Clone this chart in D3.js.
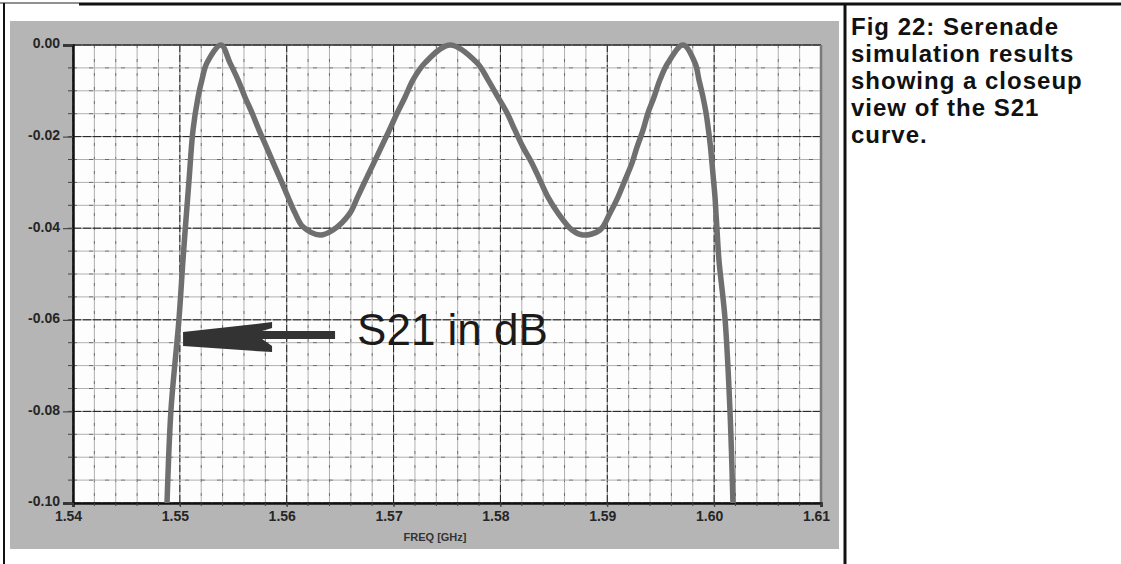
<!DOCTYPE html>
<html>
<head>
<meta charset="utf-8">
<script src="https://cdn.jsdelivr.net/npm/d3@7"></script>
<style>
  body { margin: 0; background: #fff; }
  svg { display: block; }
</style>
</head>
<body>
<div id="chart"></div>
<script>
// S21 curve (GHz, dB)
var freqGHz = [1.54880, 1.54917, 1.54992, 1.55029, 1.55057, 1.55086, 1.55123, 1.55170,
  1.55207, 1.55254, 1.55385, 1.55469, 1.55544, 1.55610, 1.55675,
  1.55741, 1.55811, 1.55875, 1.55945, 1.56012, 1.56078, 1.56152, 1.56311, 1.56433,
  1.56592, 1.56663, 1.56738, 1.56814, 1.56885, 1.56960, 1.57035, 1.57107, 1.57182,
  1.57294, 1.57528, 1.57781, 1.57884, 1.57977, 1.58061, 1.58136,
  1.58211, 1.58295, 1.58370, 1.58445, 1.58539, 1.58670, 1.58773, 1.58932, 1.59025,
  1.59100, 1.59166, 1.59231, 1.59278, 1.59334, 1.59381, 1.59437, 1.59493, 1.59568,
  1.59709, 1.59821, 1.59858, 1.59896, 1.59924, 1.59947, 1.59966,
  1.59980, 1.59994, 1.60008, 1.60017, 1.60027, 1.60045, 1.60102, 1.60148, 1.60176];
var s21dB = [-0.1000, -0.0797, -0.0598, -0.0470, -0.0382, -0.0295, -0.0186, -0.0114,
  -0.0076, -0.0039, 0.0000, -0.0039, -0.0076, -0.0114, -0.0148,
  -0.0186, -0.0223, -0.0258, -0.0295, -0.0332, -0.0367, -0.0397, -0.0415, -0.0404,
  -0.0367, -0.0332, -0.0295, -0.0258, -0.0223, -0.0186, -0.0148, -0.0114, -0.0076,
  -0.0039, 0.0000, -0.0039, -0.0076, -0.0114, -0.0148, -0.0186,
  -0.0223, -0.0258, -0.0295, -0.0332, -0.0367, -0.0404, -0.0415, -0.0404, -0.0367,
  -0.0332, -0.0295, -0.0258, -0.0223, -0.0186, -0.0148, -0.0114, -0.0076, -0.0039,
  0.0000, -0.0039, -0.0076, -0.0114, -0.0148, -0.0186, -0.0223,
  -0.0258, -0.0295, -0.0332, -0.0367, -0.0404, -0.0470, -0.0598, -0.0797, -0.1000];

var xTicks = [1.54, 1.55, 1.56, 1.57, 1.58, 1.59, 1.60, 1.61];
var yTicks = [0.00, -0.02, -0.04, -0.06, -0.08, -0.10];
var xTitle = "FREQ [GHz]";
var noteText = "S21 in dB";
var caption = ["Fig 22: Serenade", "simulation results", "showing a closeup",
  "view of the S21", "curve."];

var svgWidth = 1121, svgHeight = 564;
var plot = { left: 73, right: 821, top: 45, bottom: 503 };

var svg = d3.select("#chart").append("svg")
  .attr("width", svgWidth)
  .attr("height", svgHeight);

// gray panel behind the plot
svg.append("rect")
  .attr("x", 10).attr("y", 21)
  .attr("width", 829).attr("height", 528)
  .attr("fill", "#b5b5b5");

var x = d3.scaleLinear().domain([1.54, 1.61]).range([plot.left, plot.right]);
var y = d3.scaleLinear().domain([-0.10, 0]).range([plot.bottom, plot.top]);

// white plot area
svg.append("rect")
  .attr("x", x(1.54)).attr("y", y(0))
  .attr("width", x(1.61) - x(1.54))
  .attr("height", y(-0.10) - y(0))
  .attr("fill", "#fdfdfd");

// grid: minor every 0.002 GHz / 0.005 dB, major on the labelled ticks
var xGrid = d3.range(0, 36).map(function(i) { return +(1.54 + i * 0.002).toFixed(3); });
var yGrid = d3.range(0, 21).map(function(i) { return +(-i * 0.005).toFixed(3); });
var isMajorX = function(d) { return Math.abs(d * 100 - Math.round(d * 100)) < 1e-6; };
var isMajorY = function(d) { return Math.abs(d * 50 - Math.round(d * 50)) < 1e-6; };

var grid = svg.append("g").attr("class", "grid");
grid.selectAll(".vg").data(xGrid).enter().append("line")
  .attr("x1", d => x(d)).attr("x2", d => x(d))
  .attr("y1", y(0)).attr("y2", y(-0.10))
  .attr("stroke", d => isMajorX(d) ? "#777" : "#b0b0b0")
  .attr("stroke-width", 1);
grid.selectAll(".vgd").data(xGrid).enter().append("line")
  .attr("x1", d => x(d)).attr("x2", d => x(d))
  .attr("y1", y(0)).attr("y2", y(-0.10))
  .attr("stroke", "#111")
  .attr("stroke-opacity", d => isMajorX(d) ? 0.85 : 0.45)
  .attr("stroke-dasharray", d => isMajorX(d) ? "7,3" : "3,11")
  .attr("stroke-width", 1);
grid.selectAll(".hg").data(yGrid).enter().append("line")
  .attr("x1", x(1.54)).attr("x2", x(1.61))
  .attr("y1", d => y(d)).attr("y2", d => y(d))
  .attr("stroke", d => isMajorY(d) ? "#777" : "#b0b0b0")
  .attr("stroke-width", 1);
grid.selectAll(".hgd").data(yGrid).enter().append("line")
  .attr("x1", x(1.54)).attr("x2", x(1.61))
  .attr("y1", d => y(d)).attr("y2", d => y(d))
  .attr("stroke", "#111")
  .attr("stroke-opacity", d => isMajorY(d) ? 0.85 : 0.45)
  .attr("stroke-dasharray", d => isMajorY(d) ? "8,2" : "4,12")
  .attr("stroke-width", 1);

// plot border
svg.append("line").attr("x1", x(1.54)).attr("x2", x(1.61))
  .attr("y1", y(0)).attr("y2", y(0)).attr("stroke", "#444").attr("stroke-width", 1.5);
svg.append("line").attr("x1", x(1.61)).attr("x2", x(1.61))
  .attr("y1", y(0)).attr("y2", y(-0.10)).attr("stroke", "#7a7a7a").attr("stroke-width", 2.5);

// axes
var leftAxis = d3.axisLeft(y)
  .tickValues(yTicks)
  .tickSize(10)
  .tickPadding(3)
  .tickFormat(d => d.toFixed(2));
var yAxisG = svg.append("g")
  .attr("transform", `translate(${plot.left},0)`)
  .call(leftAxis);

var bottomAxis = d3.axisBottom(x)
  .tickValues(xTicks)
  .tickSize(4)
  .tickPadding(4)
  .tickFormat(d => d.toFixed(2));
var xAxisG = svg.append("g")
  .attr("transform", `translate(0,${plot.bottom})`)
  .call(bottomAxis);

[yAxisG, xAxisG].forEach(function(g) {
  g.select(".domain").attr("stroke", "#111").attr("stroke-width", 2.5);
  g.selectAll(".tick line").attr("stroke", "#333");
  g.selectAll(".tick text")
    .attr("fill", "#262626")
    .attr("font-family", "Liberation Sans, Arial, sans-serif")
    .attr("font-weight", "bold")
    .attr("font-size", "14px");
});
yAxisG.selectAll(".tick text").attr("dy", "0.2em");
xAxisG.selectAll(".tick text").attr("dx", "-5px");

// minor tick marks
svg.append("g").selectAll("line").data(yGrid).enter().append("line")
  .attr("x1", plot.left - 5).attr("x2", plot.left)
  .attr("y1", d => y(d)).attr("y2", d => y(d))
  .attr("stroke", "#444");
svg.append("g").selectAll("line").data(xGrid).enter().append("line")
  .attr("x1", d => x(d)).attr("x2", d => x(d))
  .attr("y1", plot.bottom).attr("y2", plot.bottom + 3)
  .attr("stroke", "#444");

// x title
svg.append("text")
  .attr("x", (plot.left + plot.right) / 2 - 12)
  .attr("y", plot.bottom + 38)
  .attr("text-anchor", "middle")
  .attr("font-family", "Liberation Sans, Arial, sans-serif")
  .attr("font-weight", "bold")
  .attr("font-size", "11px")
  .attr("fill", "#333")
  .text(xTitle);

// S21 curve
var line = d3.line()
  .x((d, i) => x(freqGHz[i]))
  .y(d => y(d))
  .curve(d3.curveCatmullRom.alpha(0.5));
svg.append("path")
  .datum(s21dB)
  .attr("d", line)
  .attr("fill", "none")
  .attr("stroke", "#6f6f6f")
  .attr("stroke-width", 5.5)
  .attr("stroke-linejoin", "round");

// annotation arrow pointing at the left skirt
var tipX = x(1.5503), tipY = y(-0.064);
var arrowPts = [[0, -6], [89, -16], [89, -10], [79, -7], [152, -7], [152, 1],
  [79, 1], [89, 8], [89, 14], [0, 8]];
svg.append("polygon")
  .attr("points", arrowPts.map(p => (tipX + p[0]) + "," + (tipY + p[1])).join(" "))
  .attr("fill", "#333");
svg.append("text")
  .attr("x", tipX + 174)
  .attr("y", tipY + 7)
  .attr("font-family", "Liberation Sans, Arial, sans-serif")
  .attr("font-size", "44px")
  .attr("fill", "#1a1a1a")
  .text(noteText);

// outer frame of the figure
svg.append("line").attr("x1", 0).attr("x2", 79).attr("y1", 3).attr("y2", 3)
  .attr("stroke", "#222").attr("stroke-width", 1);
svg.append("line").attr("x1", 79).attr("x2", svgWidth).attr("y1", 4).attr("y2", 4)
  .attr("stroke", "#111").attr("stroke-width", 3);
svg.append("line").attr("x1", 4).attr("x2", 4).attr("y1", 3).attr("y2", svgHeight)
  .attr("stroke", "#111").attr("stroke-width", 2);
svg.append("line").attr("x1", 845).attr("x2", 845).attr("y1", 3).attr("y2", svgHeight)
  .attr("stroke", "#111").attr("stroke-width", 3);

// caption
var cap = svg.append("text")
  .attr("font-family", "Liberation Sans, Arial, sans-serif")
  .attr("font-weight", "bold")
  .attr("font-size", "24px")
  .attr("letter-spacing", "1px")
  .attr("fill", "#111");
cap.selectAll("tspan").data(caption).enter().append("tspan")
  .attr("x", 851)
  .attr("y", (d, i) => 35 + i * 27)
  .text(d => d);
</script>
</body>
</html>
